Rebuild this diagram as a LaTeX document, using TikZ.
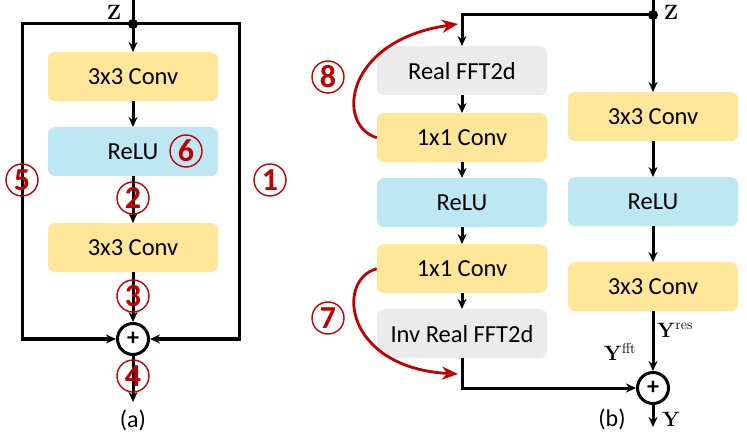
\documentclass[tikz,border=0pt]{standalone}
\usepackage[no-math]{fontspec}
\setmainfont{Carlito}
\usetikzlibrary{arrows.meta}
\definecolor{convY}{HTML}{FFE699}
\definecolor{reluB}{HTML}{BDE7F3}
\definecolor{fftG}{HTML}{EBEBEB}
\definecolor{redC}{HTML}{C00000}
\tikzset{
 blk/.style={rounded corners=7pt, minimum width=170pt, minimum height=49pt, inner sep=0pt, font=\fontsize{24.5}{27}\selectfont, anchor=north},
 conv/.style={blk, fill=convY},
 relu/.style={blk, fill=reluB},
 fft/.style={blk, fill=fftG},
 ln/.style={line width=3pt, black},
 arr/.style={ln, -{Stealth[length=10pt,width=9pt]}},
 plus/.style={circle, draw, line width=3pt, minimum size=31pt, inner sep=0pt, font=\bfseries\fontsize{24}{24}\selectfont},
 num/.style={circle, draw=redC, line width=1.4pt, minimum size=32pt, inner sep=0pt, text=redC, font=\bfseries\fontsize{32}{32}\selectfont},
 redarr/.style={draw=redC, line width=2.8pt, -{Stealth[length=16pt,width=13pt]}},
 lbl/.style={font=\fontsize{22}{24}\selectfont, inner sep=0pt},
 captxt/.style={font=\fontsize{24}{26}\selectfont, inner sep=0pt}
}
\begin{document}
\begin{tikzpicture}[x=1pt,y=-1pt]
\useasboundingbox (0,0) rectangle (747,438);
% ---------- (a) ----------
\node[lbl] (zla) at (114,12) {$\mathbf{Z}$};
\coordinate (za) at (133,24);
\coordinate (za0) at (133,0);
\coordinate (tl) at (22,24);
\coordinate (tr) at (239,24);
\node[conv] (a1) at (133,52) {3x3 Conv};
\node[relu] (a2) at (133,127) {ReLU};
\node[conv] (a3) at (133,223) {3x3 Conv};
\node[plus] (pa) at (133,339) {+};
\coordinate (outa) at (133,402);
\draw[ln] (za0) -- (za);
\fill (za) circle (5pt);
\draw[arr] (za) -- (a1);
\draw[arr] (a1) -- (a2);
\draw[arr] (a2) -- (a3);
\draw[arr] (a3) -- (pa);
\draw[arr] (pa) -- (outa);
\draw[arr] (za) -- (tl) |- (pa);
\draw[arr] (za) -- (tr) |- (pa);
\node[num] (n6) at (186,151) {6};
\node[num] (n2) at (133,198) {2};
\node[num] (n3) at (133,296) {3};
\node[num] (n4) at (133,376) {4};
\node[num] (n5) at (22,180) {5};
\node[num] (n1) at (270,180) {1};
\node[captxt] (capa) at (133,420) {(a)};
% ---------- (b) ----------
\node[lbl] (zlb) at (671,12) {$\mathbf{Z}$};
\coordinate (zb0) at (653,0);
\coordinate (zb) at (653,15);
\coordinate (tb) at (462,15);
\node[fft] (b1) at (462,46) {Real FFT2d};
\node[conv] (b2) at (462,113) {1x1 Conv};
\node[relu] (b3) at (462,178) {ReLU};
\node[conv] (b4) at (462,244) {1x1 Conv};
\node[fft] (b5) at (462,309) {Inv Real FFT2d};
\node[conv] (c1) at (653,92) {3x3 Conv};
\node[relu] (c2) at (653,177) {ReLU};
\node[conv] (c3) at (653,262) {3x3 Conv};
\node[plus] (pb) at (653,388) {+};
\coordinate (ib) at (462,388);
\coordinate (outb) at (653,427);
\draw[ln] (zb0) -- (zb);
\fill (zb) circle (5pt);
\draw[arr] (zb) -- (tb) -- (b1);
\draw[arr] (b1) -- (b2);
\draw[arr] (b2) -- (b3);
\draw[arr] (b3) -- (b4);
\draw[arr] (b4) -- (b5);
\draw[arr] (b5) -- (ib) -- (pb);
\draw[arr] (zb) -- (c1);
\draw[arr] (c1) -- (c2);
\draw[arr] (c2) -- (c3);
\draw[arr] (c3) -- (pb);
\draw[arr] (pb) -- (outb);
\coordinate (e8) at (458,24);
\coordinate (e7) at (458,374);
\draw[redarr] (b2.west) .. controls (335,125) and (345,40) .. (e8);
\draw[redarr] (b4.west) .. controls (335,280) and (345,368) .. (e7);
\node[num] (n8) at (328,77) {8};
\node[num] (n7) at (328,318) {7};
\node[lbl, anchor=west] (yres) at (657,330) {$\mathbf{Y}^{\mathrm{res}}$};
\node[lbl] (yfft) at (620,352) {$\mathbf{Y}^{\mathrm{fft}}$};
\node[lbl, anchor=west] (yout) at (662,419) {$\mathbf{Y}$};
\node[captxt] (capb) at (612,419) {(b)};
\end{tikzpicture}
\end{document}
